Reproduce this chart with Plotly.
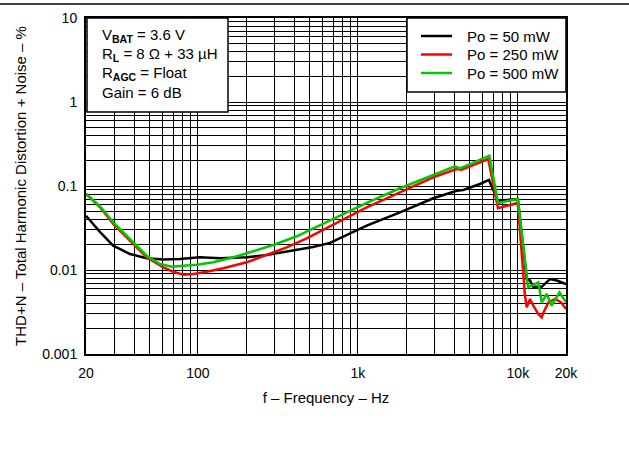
import plotly.graph_objects as go
import numpy as np

# ---- data ----
f_50 = [20, 24.5, 29.6, 37.7, 47.9, 60.8, 77.4, 103, 137.6, 202, 269, 394, 525, 670, 1136, 1834,
        2962, 4150, 4560, 5800, 6600, 7500, 10000, 11360, 11910, 12490, 14100, 15890, 17530, 20000]
thd_50 = [0.0443, 0.0283, 0.0195, 0.0155, 0.0138, 0.0133, 0.0135, 0.0142, 0.0138, 0.0142, 0.0151, 0.0170,
          0.0188, 0.0210, 0.0337, 0.0486, 0.0714, 0.0879, 0.0896, 0.1057, 0.118, 0.0668, 0.0700,
          0.0078, 0.0075, 0.0063, 0.0063, 0.0078, 0.0075, 0.0068]

f_250 = [20, 24.5, 29.6, 37.7, 47.9, 60.8, 70.3, 81.1, 93.7, 113.5, 144, 202, 269, 359, 479, 670,
         1136, 1834, 2962, 4150, 4456, 6536, 7515, 10000, 11080, 11360, 11910, 12490, 13430, 14100,
         14460, 15520, 17100, 18660, 20000]
thd_250 = [0.0803, 0.0557, 0.0353, 0.0223, 0.01416, 0.01076, 0.00954, 0.00879, 0.00896, 0.00954,
           0.01047, 0.01235, 0.0151, 0.01863, 0.0238, 0.0330, 0.0557, 0.0841, 0.127, 0.159, 0.156,
           0.2096, 0.0543, 0.0628, 0.00494, 0.0036, 0.00452, 0.00376, 0.00299, 0.00273, 0.00313,
           0.00412, 0.00452, 0.00412, 0.00343]

f_500 = [20, 24.5, 29.6, 37.7, 47.9, 58, 68.7, 81.1, 98.4, 125, 167, 222, 296, 415, 670, 1136, 1834,
         2962, 4046, 4350, 6634, 7515, 10000, 11580, 13430, 14100, 15140, 16290, 18200, 20000]
thd_500 = [0.0803, 0.0573, 0.0370, 0.0234, 0.0148, 0.01178, 0.01095, 0.01125, 0.01156, 0.01235,
           0.01416, 0.0167, 0.01985, 0.0252, 0.0386, 0.0628, 0.094, 0.1364, 0.1717, 0.1625, 0.2296,
           0.0628, 0.0700, 0.00622, 0.00714, 0.00412, 0.00518, 0.00376, 0.00543, 0.00412]

series_names = ["Po = 50 mW", "Po = 250 mW", "Po = 500 mW"]
series_colors = ["#000000", "#ff0000", "#00c800"]

x_tickvals = [20, 100, 1000, 10000, 20000]
x_ticktext = ["20", "100", "1k", "10k", "20k"]
y_tickvals = [0.001, 0.01, 0.1, 1, 10]
y_ticktext = ["0.001", "0.01", "0.1", "1", "10"]

info_lines = ["V<sub><b>BAT</b></sub> = 3.6 V",
              "R<sub><b>L</b></sub> = 8 Ω + 33 µH",
              "R<sub><b>AGC</b></sub> = Float",
              "Gain = 6 dB"]

FONT = "Liberation Sans, Arial, sans-serif"
W, H = 629, 455
L, R, T, B = 86, 63, 18, 101
PW, PH = W - L - R, H - T - B


def px_x(p):
    return (p - L) / PW


def px_y(p):
    return 1 - (p - T) / PH


fig = go.Figure()
for fx, fy, name, col in zip([f_50, f_250, f_500], [thd_50, thd_250, thd_500], series_names, series_colors):
    fig.add_trace(go.Scatter(x=fx, y=fy, mode="lines", name=name, showlegend=False,
                             line=dict(color=col, width=2.5)))

x_minor = [m * 10 ** d for d in range(1, 5) for m in range(1, 10) if 20 < m * 10 ** d < 20000]
y_minor = [m * 10.0 ** d for d in range(-3, 1) for m in range(1, 10)]

fig.update_xaxes(type="log", range=[np.log10(20), np.log10(20000)],
                 tickmode="array", tickvals=x_tickvals, ticktext=x_ticktext,
                 showgrid=False, zeroline=False, automargin=False,
                 ticks="outside", ticklen=5, tickcolor="rgba(0,0,0,0)",
                 minor=dict(tickmode="array", tickvals=x_minor, showgrid=True,
                            gridcolor="#000000", gridwidth=1, ticks=""),
                 showline=True, linecolor="black", linewidth=2, mirror=True,
                 tickfont=dict(size=14, color="black", family=FONT),
                 title=dict(text="f – Frequency – Hz", font=dict(size=15, color="black", family=FONT),
                            standoff=13))
fig.update_yaxes(type="log", range=[-3, 1],
                 tickmode="array", tickvals=y_tickvals, ticktext=y_ticktext,
                 showgrid=False, zeroline=False, automargin=False,
                 ticks="outside", ticklen=4, tickcolor="rgba(0,0,0,0)",
                 minor=dict(tickmode="array", tickvals=y_minor, showgrid=True,
                            gridcolor="#000000", gridwidth=1, ticks=""),
                 showline=True, linecolor="black", linewidth=2, mirror=True,
                 tickfont=dict(size=14, color="black", family=FONT),
                 title=dict(text="THD+N – Total Harmonic Distortion + Noise – %",
                            font=dict(size=15, color="black", family=FONT), standoff=12))

# info box
fig.add_shape(type="rect", xref="paper", yref="paper", x0=px_x(87), x1=px_x(228),
              y0=px_y(112), y1=1, fillcolor="white",
              line=dict(color="black", width=1.5), layer="above")
for i, t in enumerate(info_lines):
    fig.add_annotation(xref="paper", yref="paper", x=px_x(100),
                       y=px_y(35 + 19.3 * i), text=t, showarrow=False,
                       xanchor="left", yanchor="middle",
                       font=dict(size=15, color="black", family=FONT))

# legend box (drawn)
fig.add_shape(type="rect", xref="paper", yref="paper", x0=px_x(407), x1=1,
              y0=px_y(92), y1=1, fillcolor="white",
              line=dict(color="black", width=1.5), layer="above")
for i, (name, col) in enumerate(zip(series_names, series_colors)):
    yy = px_y(36 + 18.5 * i)
    fig.add_shape(type="line", xref="paper", yref="paper", x0=px_x(421), x1=px_x(452),
                  y0=yy, y1=yy, line=dict(color=col, width=2.5), layer="above")
    fig.add_annotation(xref="paper", yref="paper", x=px_x(465), y=yy, text=name,
                       showarrow=False, xanchor="left", yanchor="middle",
                       font=dict(size=15, color="black", family=FONT))

# top page rule
fig.add_shape(type="line", xref="paper", yref="paper", x0=px_x(0), x1=px_x(W),
              y0=px_y(4), y1=px_y(4), line=dict(color="black", width=1.5))

fig.update_layout(width=W, height=H,
                  margin=dict(l=L, r=R, t=T, b=B),
                  paper_bgcolor="white", plot_bgcolor="white",
                  font=dict(family=FONT, size=14, color="black"),
                  showlegend=False)

fig.write_html("out.html", config={"displayModeBar": False},
               post_script="document.body.style.margin='0';")
